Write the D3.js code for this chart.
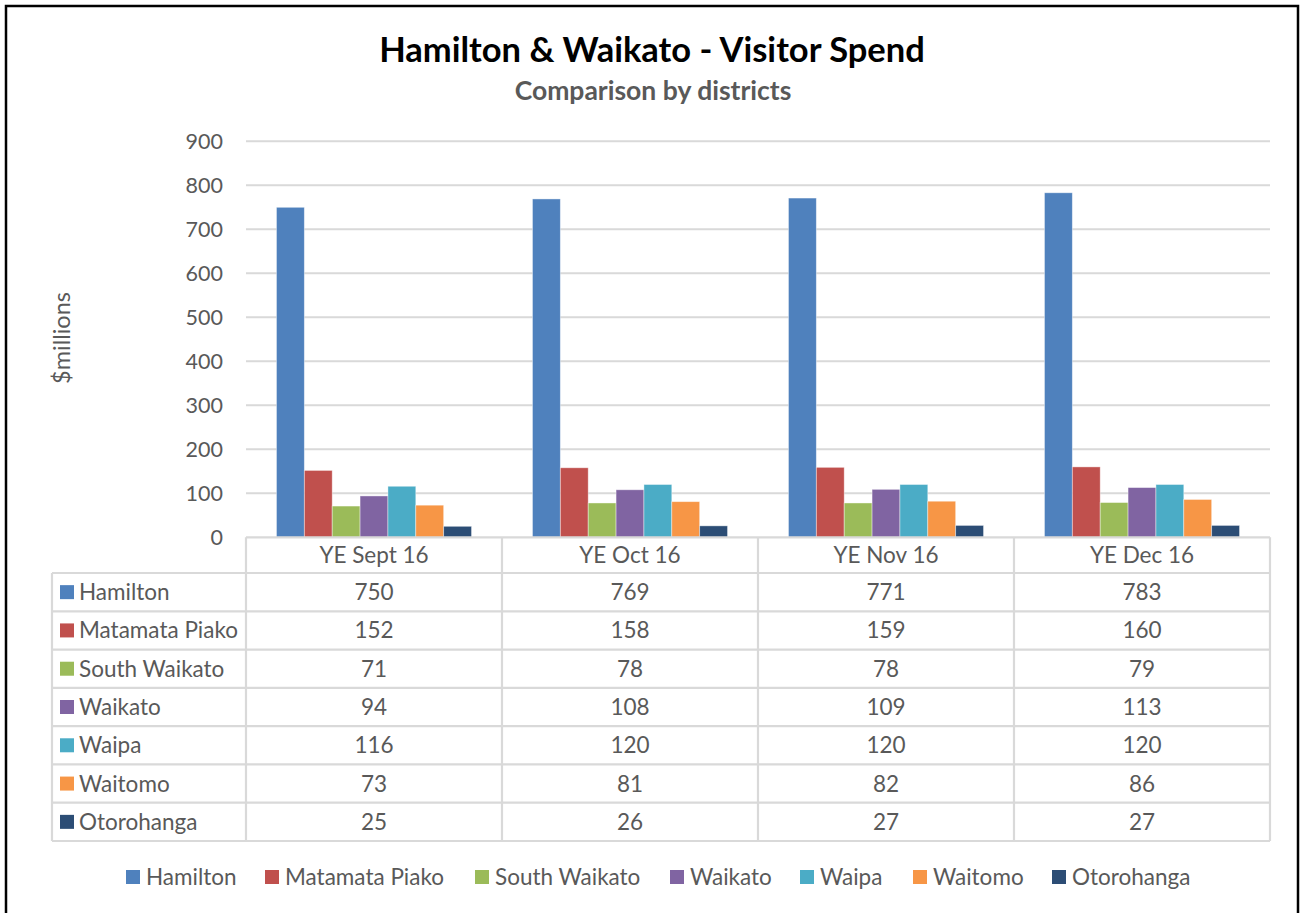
<!DOCTYPE html>
<html>
<head>
<meta charset="utf-8">
<script src="https://cdn.jsdelivr.net/npm/d3@7/dist/d3.min.js"></script>
<style>
  html, body { margin: 0; padding: 0; background: #fff; }
  svg { display: block; font-family: Lato, "Open Sans", sans-serif; }
</style>
</head>
<body>
<svg id="chart" width="1301" height="913"></svg>
<script>
// Year-ending periods (columns)
const periods = ["YE Sept 16", "YE Oct 16", "YE Nov 16", "YE Dec 16"];
// Districts (series)
const districts = ["Hamilton", "Matamata Piako", "South Waikato", "Waikato", "Waipa", "Waitomo", "Otorohanga"];
// Visitor spend, $millions, one array per district in period order
const hamilton      = [750, 769, 771, 783];
const matamataPiako = [152, 158, 159, 160];
const southWaikato  = [71, 78, 78, 79];
const waikato       = [94, 108, 109, 113];
const waipa         = [116, 120, 120, 120];
const waitomo       = [73, 81, 82, 86];
const otorohanga    = [25, 26, 27, 27];
const yTicks = [0, 100, 200, 300, 400, 500, 600, 700, 800, 900];
const colors = ["#4F81BD", "#C0504D", "#9BBB59", "#8064A2", "#4BACC6", "#F79646", "#2C4D75"];

const seriesValues = [hamilton, matamataPiako, southWaikato, waikato, waipa, waitomo, otorohanga];
const series = districts.map((name, i) => ({ name, color: colors[i], values: seriesValues[i] }));

const svg = d3.select("#chart");
const textColor = "#595959";
const lineColor = "#D9D9D9";
const bodySize = 22.5;

// Outer frame
svg.append("path")
  .attr("d", "M6,913 V6 H1298 V913")
  .attr("fill", "none").attr("stroke", "#000").attr("stroke-width", 2.5);

// Titles
svg.append("text").attr("x", 652).attr("y", 62).attr("text-anchor", "middle")
  .attr("font-size", 34.5).attr("font-weight", 700).attr("fill", "#000")
  .text("Hamilton & Waikato - Visitor Spend");
svg.append("text").attr("x", 653).attr("y", 100).attr("text-anchor", "middle")
  .attr("font-size", 26.5).attr("font-weight", 700).attr("fill", textColor)
  .text("Comparison by districts");

// Plot geometry
const plotLeft = 246, plotRight = 1270, plotTop = 141.3, plotBottom = 537.3;

const y = d3.scaleLinear().domain([0, 900]).range([plotBottom, plotTop]);
const x0 = d3.scaleBand().domain(periods).range([plotLeft, plotRight]).padding(0);
const x1 = d3.scaleBand().domain(districts)
  .range([x0.bandwidth() * 0.119, x0.bandwidth() * 0.881]).padding(0);

// Gridlines
svg.append("g").selectAll("line").data(yTicks.filter(d => d > 0)).join("line")
  .attr("x1", plotLeft).attr("x2", plotRight)
  .attr("y1", d => y(d)).attr("y2", d => y(d))
  .attr("stroke", lineColor).attr("stroke-width", 2);

// Y axis labels
const yAxis = d3.axisLeft(y).tickValues(yTicks).tickSize(0).tickPadding(0);
const yg = svg.append("g").attr("transform", `translate(223,0)`).call(yAxis);
yg.select(".domain").remove();
yg.selectAll("text").attr("font-size", 21.5).attr("fill", textColor)
  .attr("font-family", "Lato, 'Open Sans', sans-serif");

svg.append("text")
  .attr("transform", `translate(70,338) rotate(-90)`)
  .attr("text-anchor", "middle").attr("font-size", 23.5).attr("fill", textColor)
  .text("$millions");

// Bars
const groups = svg.append("g").selectAll("g").data(periods).join("g")
  .attr("transform", d => `translate(${x0(d)},0)`);
groups.selectAll("rect")
  .data((p, pi) => series.map(s => ({ name: s.name, color: s.color, value: s.values[pi] })))
  .join("rect")
  .attr("x", d => x1(d.name))
  .attr("width", x1.bandwidth())
  .attr("y", d => y(d.value))
  .attr("height", d => y(0) - y(d.value))
  .attr("fill", d => d.color)
  .attr("stroke", "#fff").attr("stroke-opacity", 0.5).attr("stroke-width", 0.8);

// Data table
const tableLeft = 52;
const headerTop = plotBottom, headerBottom = 573;
const rowH = (841 - headerBottom) / districts.length;
const rowY = i => headerBottom + i * rowH;
const tbl = svg.append("g");

// horizontal lines
tbl.append("line").attr("x1", plotLeft).attr("x2", plotRight)
  .attr("y1", headerTop).attr("y2", headerTop);
tbl.selectAll(".hline").data(d3.range(districts.length + 1)).join("line")
  .attr("class", "hline")
  .attr("x1", tableLeft).attr("x2", plotRight)
  .attr("y1", i => rowY(i)).attr("y2", i => rowY(i));
// vertical lines
tbl.selectAll(".vline").data(periods.map(p => x0(p)).concat([plotRight])).join("line")
  .attr("class", "vline")
  .attr("x1", d => d).attr("x2", d => d)
  .attr("y1", headerTop).attr("y2", rowY(districts.length));
tbl.append("line").attr("x1", tableLeft).attr("x2", tableLeft)
  .attr("y1", rowY(0)).attr("y2", rowY(districts.length));
tbl.selectAll("line").attr("stroke", lineColor).attr("stroke-width", 2.2);

// header labels
tbl.selectAll(".hdr").data(periods).join("text").attr("class", "hdr")
  .attr("x", d => x0(d) + x0.bandwidth() / 2)
  .attr("y", (headerTop + headerBottom) / 2 + 8)
  .attr("text-anchor", "middle").attr("font-size", bodySize).attr("fill", textColor)
  .text(d => d);

// row labels with swatches
const rows = tbl.selectAll(".row").data(series).join("g").attr("class", "row");
rows.append("rect")
  .attr("x", 60).attr("y", (d, i) => rowY(i) + rowH / 2 - 7)
  .attr("width", 14).attr("height", 14).attr("fill", d => d.color);
rows.append("text")
  .attr("x", 79).attr("y", (d, i) => rowY(i) + rowH / 2 + 8)
  .attr("font-size", bodySize).attr("fill", textColor).text(d => d.name);
// values
rows.each(function (s, i) {
  d3.select(this).selectAll(".val").data(s.values).join("text").attr("class", "val")
    .attr("x", (v, pi) => x0(periods[pi]) + x0.bandwidth() / 2)
    .attr("y", rowY(i) + rowH / 2 + 8)
    .attr("text-anchor", "middle").attr("font-size", bodySize).attr("fill", textColor)
    .text(v => v);
});

// Legend along the bottom
const legendX = [126, 265, 475, 670, 800, 913, 1052];
const lg = svg.append("g").selectAll("g").data(series).join("g")
  .attr("transform", (d, i) => `translate(${legendX[i]},877)`);
lg.append("rect").attr("x", 0).attr("y", -7).attr("width", 14).attr("height", 14)
  .attr("fill", d => d.color);
lg.append("text").attr("x", 20).attr("y", 8).attr("font-size", bodySize).attr("fill", textColor)
  .text(d => d.name);
</script>
</body>
</html>
